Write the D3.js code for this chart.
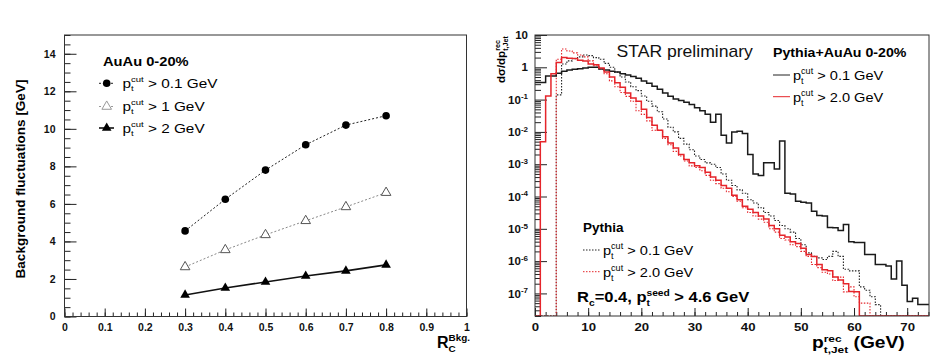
<!DOCTYPE html>
<html><head><meta charset="utf-8">
<script src="https://cdn.jsdelivr.net/npm/d3@7"></script>
<style>body{margin:0;background:#fff}svg{font-family:"Liberation Sans",Arial,Helvetica,sans-serif}</style>
</head><body>
<svg id="c" width="943" height="360"></svg>
<script>
// ---------------- DATA ----------------
// Left panel: background fluctuations vs R_C
const rcValues   = [0.3, 0.4, 0.5, 0.6, 0.7, 0.8];
const fluctPt01  = [4.56, 6.25, 7.8, 9.15, 10.2, 10.7];   // pt cut > 0.1 GeV
const fluctPt1   = [2.64, 3.55, 4.35, 5.1, 5.84, 6.6];    // pt cut > 1 GeV
const fluctPt2   = [1.15, 1.52, 1.84, 2.16, 2.43, 2.75];  // pt cut > 2 GeV
const leftYTicks = [0, 2, 4, 6, 8, 10, 12, 14];
const leftXTicks = [0, 0.1, 0.2, 0.3, 0.4, 0.5, 0.6, 0.7, 0.8, 0.9, 1];
const leftLegend = ["> 0.1 GeV", "> 1 GeV", "> 2 GeV"];

// Right panel: jet spectra, 1 GeV bins (low edges)
const ptBins = [0,1,2,3,4,5,6,7,8,9,10,11,12,13,14,15,16,17,18,19,20,21,22,23,24,25,26,27,28,29,30,31,32,33,34,35,36,37,38,39,40,41,42,43,44,45,46,47,48,49,50,51,52,53,54,55,56,57,58,59,60,61,62,63,64,65,66,67,68,69,70,71,72,73,74];
const binWidth = 1;
const hAuAuPt01 = [3.4e-1,3.4e-1,5.4e-1,5.4e-1,6.6e-1,7.6e-1,8.3e-1,8.7e-1,9.1e-1,9.5e-1,
  1.0,1.0,8.9e-1,8.3e-1,7.6e-1,7.1e-1,6.3e-1,5.8e-1,5.2e-1,4.6e-1,
  3.8e-1,3.2e-1,2.6e-1,2.1e-1,1.6e-1,1.26e-1,1.05e-1,9.3e-2,8.3e-2,7.1e-2,
  5.6e-2,4.5e-2,3.5e-2,2.0e-2,3.5e-2,7.9e-3,4.5e-3,1.0e-2,1.05e-2,8.9e-3,
  2.0e-3,5.0e-4,4.5e-4,1.1e-3,1.1e-3,7.1e-4,5.2e-3,1.26e-4,1.2e-4,7.1e-5,
  6.6e-5,6.3e-5,3.5e-5,2.6e-5,2.5e-5,1.1e-5,1.07e-5,8.9e-6,1.35e-5,4.0e-6,
  3.8e-6,3.8e-6,1.6e-6,1.6e-6,7.9e-7,7.9e-7,7.1e-7,2.8e-7,1.0e-6,1.8e-7,
  5.6e-8,7.1e-8,4.5e-8,4.5e-8,4.5e-8];
const hAuAuPt2 = [0,5.0e-3,1.3e-1,6.3e-1,1.41,2.0,1.9,1.86,1.66,1.58,
  1.26,1.2,9.5e-1,7.1e-1,5.0e-1,3.3e-1,2.4e-1,1.6e-1,1.12e-1,8.9e-2,
  5.0e-2,2.8e-2,1.6e-2,1.12e-2,7.1e-3,4.5e-3,3.2e-3,2.0e-3,1.4e-3,1.1e-3,
  8.9e-4,7.9e-4,5.6e-4,4.0e-4,3.2e-4,2.2e-4,1.8e-4,1.1e-4,7.9e-5,5.0e-5,
  4.0e-5,3.2e-5,2.5e-5,2.0e-5,1.26e-5,1.0e-5,6.3e-6,5.6e-6,4.0e-6,3.5e-6,
  2.5e-6,1.6e-6,1.4e-6,7.9e-7,5.4e-7,5.0e-7,3.2e-7,2.6e-7,2.0e-7,1.15e-7,
  1.12e-7,0,0,0,0,0,0,0,0,0,0,0,0,0,0];
const hPythiaPt01 = [0,0,0,0,1.4e-1,1.26,1.58,1.86,2.1,2.4,
  2.3,2.0,1.78,1.32,1.0,7.1e-1,5.0e-1,3.5e-1,2.5e-1,1.9e-1,
  1.3e-1,8.9e-2,6.3e-2,4.2e-2,2.5e-2,1.4e-2,1.0e-2,6.3e-3,4.2e-3,2.8e-3,
  1.8e-3,1.4e-3,1.1e-3,1.0e-3,7.9e-4,5.0e-4,3.2e-4,2.2e-4,1.6e-4,1.26e-4,
  7.9e-5,6.3e-5,4.5e-5,3.2e-5,2.5e-5,1.8e-5,1.26e-5,1.0e-5,7.9e-6,5.0e-6,
  3.2e-6,1.8e-6,1.4e-6,1.26e-6,1.12e-6,1.4e-6,2.0e-6,1.4e-6,5.6e-7,5.0e-7,
  5.0e-7,1.6e-7,1.26e-7,7.9e-8,4.5e-8,0,0,0,0,0,0,0,0,0,0];
const hPythiaPt2 = [0,0,0,0,1.78,3.7,3.2,2.8,2.4,2.1,
  1.58,1.12,8.9e-1,6.3e-1,3.8e-1,2.5e-1,1.66e-1,1.26e-1,8.9e-2,4.5e-2,
  3.5e-2,2.2e-2,1.12e-2,1.12e-2,6.3e-3,4.0e-3,2.5e-3,1.8e-3,1.26e-3,8.9e-4,
  7.9e-4,6.3e-4,4.5e-4,3.2e-4,2.5e-4,1.8e-4,1.4e-4,1.0e-4,7.1e-5,4.5e-5,
  3.2e-5,2.5e-5,2.0e-5,1.6e-5,1.0e-5,7.9e-6,5.0e-6,4.5e-6,3.2e-6,2.8e-6,
  2.0e-6,1.4e-6,7.9e-7,6.3e-7,4.5e-7,4.0e-7,2.5e-7,3.2e-7,1.12e-7,1.6e-7,
  7.9e-8,5.0e-8,5.0e-8,0,0,0,0,0,0,0,0,0,0,0,0];
const rightXTicks = [0, 10, 20, 30, 40, 50, 60, 70];
const rightYExponents = [1, 0, -1, -2, -3, -4, -5, -6, -7];
const topLegend = ["> 0.1 GeV", "> 2.0 GeV"];

// ---------------- HELPERS ----------------
const svg = d3.select("#c");
function rich(parent, x, y, segs, o) {
  const size = o.size || 14, weight = o.weight || "normal", sx = o.sx || 1, rot = o.rot || 0, fill = o.fill || "#000";
  const supK = o.supK || 0.42;
  const g = parent.append("g").attr("transform", `translate(${x},${y}) rotate(${rot}) scale(${sx},1)`);
  const inner = g.append("g");
  let cx = 0; const ss = size * 0.62;
  const put = (txt, xx, yy, fs) => {
    const t = inner.append("text").attr("x", xx).attr("y", yy).attr("font-size", fs)
      .attr("font-weight", weight).attr("fill", fill).style("white-space", "pre").text(txt);
    return t.node().getComputedTextLength();
  };
  segs.forEach(s => {
    if (s.t) cx += put(s.t, cx, 0, size);
    let w = 0;
    if (s.sup) w = Math.max(w, put(s.sup, cx, -size * supK, ss));
    if (s.sub) w = Math.max(w, put(s.sub, cx, size * 0.3, ss));
    cx += w;
  });
  if (o.anchor === "middle") inner.attr("transform", `translate(${-cx / 2},0)`);
  if (o.anchor === "end") inner.attr("transform", `translate(${-cx},0)`);
  return g;
}

// ---------------- LEFT PANEL ----------------
const L = {l: 64.5, r: 466.5, t: 35, b: 316.5};
const xL = d3.scaleLinear().domain([0, 1]).range([L.l, L.r]);
const yL = d3.scaleLinear().domain([0, 15]).range([L.b, L.t]);
const gL = svg.append("g");

// minor ticks
gL.append("g").attr("transform", `translate(0,${L.b})`)
  .call(d3.axisBottom(xL).tickValues(d3.range(0, 1.001, 0.02)).tickSize(-4).tickFormat(""))
  .call(g => g.select(".domain").remove()).selectAll("line").attr("stroke", "#222");
gL.append("g").attr("transform", `translate(${L.l},0)`)
  .call(d3.axisLeft(yL).tickValues(d3.range(0, 15.01, 0.5)).tickSize(-6).tickFormat(""))
  .call(g => g.select(".domain").remove()).selectAll("line").attr("stroke", "#222");
// major ticks + labels
const axLx = gL.append("g").attr("transform", `translate(0,${L.b})`)
  .call(d3.axisBottom(xL).tickValues(leftXTicks).tickSize(-8).tickPadding(5).tickFormat(d => d === 0 || d === 1 ? d3.format("d")(d) : d3.format(".1f")(d)));
axLx.select(".domain").remove();
axLx.selectAll("line").attr("stroke", "#222");
axLx.selectAll("text").attr("font-size", 10.5).attr("font-weight", "bold").attr("font-family", null).attr("fill", "#111").attr("dy", "0.95em");
const axLy = gL.append("g").attr("transform", `translate(${L.l},0)`)
  .call(d3.axisLeft(yL).tickValues(leftYTicks).tickSize(-12).tickPadding(9));
axLy.select(".domain").remove();
axLy.selectAll("line").attr("stroke", "#222");
axLy.selectAll("text").attr("font-size", 10.5).attr("font-weight", "bold").attr("font-family", null).attr("fill", "#111");
gL.append("rect").attr("x", L.l).attr("y", L.t).attr("width", L.r - L.l).attr("height", L.b - L.t)
  .attr("fill", "none").attr("stroke", "#333").attr("stroke-width", 1);

const lineL = d3.line().x((d, i) => xL(rcValues[i])).y(d => yL(d));
gL.append("path").datum(fluctPt01).attr("d", lineL).attr("fill", "none").attr("stroke", "#222").attr("stroke-width", 1).attr("stroke-dasharray", "2,2");
gL.append("path").datum(fluctPt1).attr("d", lineL).attr("fill", "none").attr("stroke", "#888").attr("stroke-width", 1).attr("stroke-dasharray", "2,2");
gL.append("path").datum(fluctPt2).attr("d", lineL).attr("fill", "none").attr("stroke", "#111").attr("stroke-width", 1.6);
const tri = d3.symbol().type(d3.symbolTriangle).size(40);
gL.selectAll(".c1").data(fluctPt01).join("circle").attr("cx", (d, i) => xL(rcValues[i])).attr("cy", d => yL(d)).attr("r", 3.8).attr("fill", "#000");
gL.selectAll(".t1").data(fluctPt1).join("path").attr("d", tri).attr("transform", (d, i) => `translate(${xL(rcValues[i])},${yL(d)})`).attr("fill", "#fff").attr("stroke", "#555").attr("stroke-width", 1);
gL.selectAll(".t2").data(fluctPt2).join("path").attr("d", tri).attr("transform", (d, i) => `translate(${xL(rcValues[i])},${yL(d)})`).attr("fill", "#000");

// left legend
rich(gL, 103, 66, [{t: "AuAu 0-20%"}], {size: 13, weight: "bold", sx: 1.13});
const legRowsL = [87.5, 110.5, 132.5], legMarkL = [83.3, 106.5, 128];
const legStyles = [
  {stroke: "#222", dash: "2,2", w: 1},
  {stroke: "#999", dash: "2,2", w: 1},
  {stroke: "#111", dash: null, w: 1.6}];
leftLegend.forEach((txt, i) => {
  gL.append("line").attr("x1", 99).attr("x2", 114).attr("y1", legMarkL[i]).attr("y2", legMarkL[i])
    .attr("stroke", legStyles[i].stroke).attr("stroke-width", legStyles[i].w).attr("stroke-dasharray", legStyles[i].dash);
  if (i === 0) gL.append("circle").attr("cx", 106.7).attr("cy", legMarkL[i]).attr("r", 3.8).attr("fill", "#000");
  if (i === 1) gL.append("path").attr("d", tri).attr("transform", `translate(106.7,${legMarkL[i]})`).attr("fill", "#fff").attr("stroke", "#999");
  if (i === 2) gL.append("path").attr("d", tri).attr("transform", `translate(106.7,${legMarkL[i]})`).attr("fill", "#000");
  rich(gL, 122.5, legRowsL[i], [{t: "p", sup: "cut", sub: "t"}, {t: " " + txt}], {size: 13, sx: 1.18});
});
// axis titles
rich(gL, 25, 179, [{t: "Background fluctuations [GeV]"}], {size: 13.5, weight: "bold", rot: -90, anchor: "middle"});
rich(gL, 437, 347.5, [{t: "R", sup: "Bkg.", sub: "C"}], {size: 16, weight: "bold"});

// ---------------- RIGHT PANEL ----------------
const R = {l: 535, r: 929, t: 35, b: 316};
const yMin = 2e-8;
const xR = d3.scaleLinear().domain([0, 74.1]).range([R.l, R.r]);
const yR = d3.scaleLog().domain([yMin, 10]).range([R.b, R.t]);
const gR = svg.append("g");
svg.append("defs").append("clipPath").attr("id", "clipR").append("rect")
  .attr("x", R.l).attr("y", R.t).attr("width", R.r - R.l).attr("height", R.b - R.t);

// minor/major ticks
const minorX = d3.range(0, 74.1, 2);
gR.append("g").attr("transform", `translate(0,${R.b})`)
  .call(d3.axisBottom(xR).tickValues(minorX).tickSize(-4).tickFormat(""))
  .call(g => g.select(".domain").remove()).selectAll("line").attr("stroke", "#222");
const axRx = gR.append("g").attr("transform", `translate(0,${R.b})`)
  .call(d3.axisBottom(xR).tickValues(rightXTicks).tickSize(-8).tickPadding(5));
axRx.select(".domain").remove();
axRx.selectAll("line").attr("stroke", "#222");
axRx.selectAll("text").attr("font-size", 11).attr("font-weight", "bold").attr("font-family", null).attr("fill", "#111").attr("dy", "0.95em")
  .attr("transform", "scale(1.2,1)");

const minorY = [];
rightYExponents.concat([-8]).forEach(e => { for (let m = 2; m <= 9; m++) { const v = m * Math.pow(10, e); if (v >= yMin && v <= 10) minorY.push(v); } });
gR.append("g").attr("transform", `translate(${R.l},0)`)
  .call(d3.axisLeft(yR).tickValues(minorY).tickSize(-6).tickFormat(""))
  .call(g => g.select(".domain").remove()).selectAll("line").attr("stroke", "#222");
const majorY = rightYExponents.map(e => Math.pow(10, e));
gR.append("g").attr("transform", `translate(${R.l},0)`)
  .call(d3.axisLeft(yR).tickValues(majorY).tickSize(-12).tickFormat(""))
  .call(g => g.select(".domain").remove()).selectAll("line").attr("stroke", "#222");
rightYExponents.forEach(e => {
  const t = gR.append("text").attr("x", 528).attr("y", yR(Math.pow(10, e))).attr("dy", "0.36em")
    .attr("text-anchor", "end").attr("font-size", 11.5).attr("font-weight", "bold").attr("fill", "#111");
  if (e === 1) t.text("10");
  else if (e === 0) t.text("1");
  else { t.append("tspan").text("10"); t.append("tspan").attr("dy", "-0.55em").attr("font-size", 8).text(String(e)); }
});

// histograms
function stepPts(vals) {
  const pts = [];
  vals.forEach((v, i) => {
    const yy = yR(Math.max(v, yMin));
    pts.push([xR(ptBins[i]), yy], [xR(ptBins[i] + binWidth), yy]);
  });
  return d3.line()(pts);
}
const gH = gR.append("g").attr("clip-path", "url(#clipR)");
const RED = "#e5252b";
gH.append("path").attr("d", stepPts(hPythiaPt01)).attr("fill", "none").attr("stroke", "#222").attr("stroke-width", 1.1).attr("stroke-dasharray", "1.5,1.5");
gH.append("path").attr("d", stepPts(hPythiaPt2)).attr("fill", "none").attr("stroke", RED).attr("stroke-width", 1.1).attr("stroke-dasharray", "1.5,1.5");
gH.append("path").attr("d", stepPts(hAuAuPt01)).attr("fill", "none").attr("stroke", "#1a1a1a").attr("stroke-width", 1.5);
gH.append("path").attr("d", stepPts(hAuAuPt2)).attr("fill", "none").attr("stroke", RED).attr("stroke-width", 1.5);

gR.append("rect").attr("x", R.l).attr("y", R.t).attr("width", R.r - R.l).attr("height", R.b - R.t)
  .attr("fill", "none").attr("stroke", "#333").attr("stroke-width", 1);

// texts
rich(gR, 616.5, 56.5, [{t: "STAR preliminary"}], {size: 16, sx: 1.1, fill: "#111"});
rich(gR, 773, 57, [{t: "Pythia+AuAu 0-20%"}], {size: 13.5, weight: "bold", sx: 1.05});
const topCols = ["#222", RED];
topLegend.forEach((txt, i) => {
  const yy = [75, 96.7][i];
  gR.append("line").attr("x1", 773).attr("x2", 790).attr("y1", yy).attr("y2", yy).attr("stroke", topCols[i]).attr("stroke-width", 1);
  rich(gR, 793, [80, 101.5][i], [{t: "p", sup: "cut", sub: "t"}, {t: " " + txt}], {size: 13.5, sx: 1.08});
});
rich(gR, 583, 232, [{t: "Pythia"}], {size: 13.5, weight: "bold"});
topLegend.forEach((txt, i) => {
  const yy = [250, 271.7][i];
  gR.append("line").attr("x1", 583).attr("x2", 600).attr("y1", yy).attr("y2", yy).attr("stroke", topCols[i]).attr("stroke-width", 1).attr("stroke-dasharray", "1.5,1.5");
  rich(gR, 603, [255, 276.5][i], [{t: "p", sup: "cut", sub: "t"}, {t: " " + txt}], {size: 13.5, sx: 1.08});
});
rich(gR, 577, 301.5, [{t: "R", sub: "c"}, {t: "=0.4, p", sup: "seed", sub: "t"}, {t: " > 4.6 GeV"}], {size: 14, weight: "bold", sx: 1.18});
// axis titles
rich(gR, 505, 83, [{t: "dσ/dp", sup: "rec", sub: "t,Jet"}], {size: 11.5, weight: "bold", rot: -90});
rich(gR, 812, 348, [{t: "p", sup: "rec", sub: "t,Jet"}, {t: " (GeV)"}], {size: 16, weight: "bold", sx: 1.2, supK: 0.36});
</script>
</body></html>
